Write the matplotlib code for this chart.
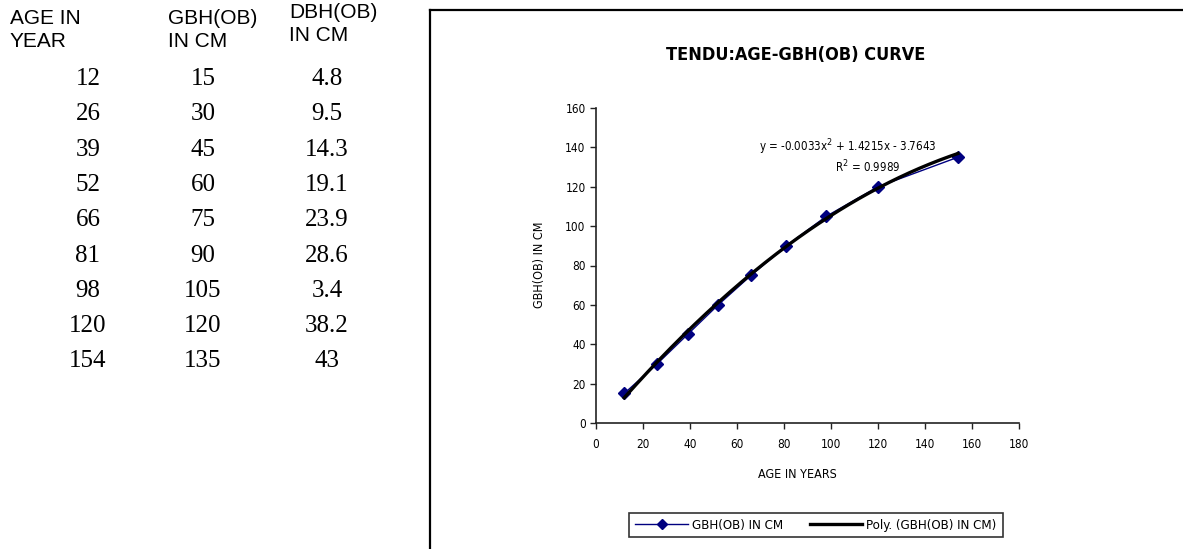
import numpy as np
import matplotlib
matplotlib.use("Agg")
from matplotlib import pyplot as plt
from matplotlib.lines import Line2D

# table / chart data
age = [12, 26, 39, 52, 66, 81, 98, 120, 154]
gbh = [15, 30, 45, 60, 75, 90, 105, 120, 135]
dbh = ["4.8", "9.5", "14.3", "19.1", "23.9", "28.6", "3.4", "38.2", "43"]
headers = ["AGE IN\nYEAR", "GBH(OB)\nIN CM", "DBH(OB)\nIN CM"]

# trendline coefficients shown on the chart
poly_coef = [-0.0033, 1.4215, -3.7643]
r2 = 0.9989

narrow = ["Liberation Sans Narrow", "DejaVu Sans"]
stretch = "condensed"

W, H = 1183, 549
fig = plt.figure(figsize=(W / 100, H / 100), dpi=100)

def fx(px):
    return px / W

def fy(py):
    return 1 - py / H

# ---- left table ----
sans = ["Liberation Sans", "DejaVu Sans"]
serif = ["Liberation Serif", "DejaVu Serif"]
fig.text(fx(10), fy(9), headers[0], family=sans, fontsize=15, va="top", ha="left", linespacing=1.28)
fig.text(fx(168), fy(9), headers[1], family=sans, fontsize=15, va="top", ha="left", linespacing=1.28)
fig.text(fx(289), fy(3), headers[2], family=sans, fontsize=15, va="top", ha="left", linespacing=1.28)

row_y0, row_dy = 79, 35.3
for i in range(len(age)):
    y = fy(row_y0 + i * row_dy)
    fig.text(fx(88), y, str(age[i]), family=serif, fontsize=18, ha="center", va="center")
    fig.text(fx(203), y, str(gbh[i]), family=serif, fontsize=18, ha="center", va="center")
    fig.text(fx(327), y, dbh[i], family=serif, fontsize=18, ha="center", va="center")

# ---- chart frame (cropped) ----
fig.add_artist(Line2D([fx(430), 1.0], [fy(10), fy(10)], color="black", lw=1.6))
fig.add_artist(Line2D([fx(430), fx(430)], [fy(10), 0.0], color="black", lw=1.6))

# ---- chart ----
ax = fig.add_axes([fx(596), fy(423), fx(1019) - fx(596), fy(108) - fy(423)])
ax.plot(age, gbh, color="#000080", lw=1, marker="D", markersize=6,
        label="GBH(OB) IN CM", zorder=2)
xs = np.linspace(min(age), max(age), 200)
ax.plot(xs, np.polyval(poly_coef, xs), color="black", lw=2.4,
        label="Poly. (GBH(OB) IN CM)", zorder=3)

ax.set_xlim(0, 180)
ax.set_ylim(0, 160)
ax.set_xticks(range(0, 181, 20))
ax.set_yticks(range(0, 161, 20))
for s in ["top", "right"]:
    ax.spines[s].set_visible(False)
for s in ["left", "bottom"]:
    ax.spines[s].set_linewidth(1.2)
    ax.spines[s].set_color("#222222")
ax.tick_params(axis="both", labelsize=8.5, length=4, width=1, colors="#222222")
for lab in ax.get_xticklabels() + ax.get_yticklabels():
    lab.set_family(narrow)
    lab.set_stretch(stretch)
    lab.set_color("black")
ax.tick_params(axis="x", pad=7)

fig.text(fx(796), fy(55), "TENDU:AGE-GBH(OB) CURVE", family=narrow, fontsize=13,
         fontweight="bold", fontstretch=stretch, ha="center", va="center")
fig.text(fx(540), fy(265), "GBH(OB) IN CM", family=narrow, fontsize=9,
         fontstretch=stretch, rotation=90, ha="center", va="center")
fig.text(fx(797), fy(475), "AGE IN YEARS", family=narrow, fontsize=9,
         fontstretch=stretch, ha="center", va="center")

fig.text(fx(848), fy(147), "y = -0.0033x$^2$ + 1.4215x - 3.7643", family=narrow,
         fontsize=8.3, fontstretch=stretch, ha="center", va="center")
fig.text(fx(868), fy(167), "R$^2$ = %.4f" % r2, family=narrow,
         fontsize=8.3, fontstretch=stretch, ha="center", va="center")

leg = fig.legend(loc="center", bbox_to_anchor=(fx(816), fy(525)), ncol=2,
                 frameon=True, fancybox=False, edgecolor="black",
                 prop={"family": narrow, "size": 9.5, "stretch": stretch},
                 handlelength=4.0, columnspacing=2.0, handletextpad=0.3,
                 borderpad=0.45, markerscale=0.8)
leg.get_frame().set_linewidth(1.2)

fig.savefig("out.png", dpi=100)
